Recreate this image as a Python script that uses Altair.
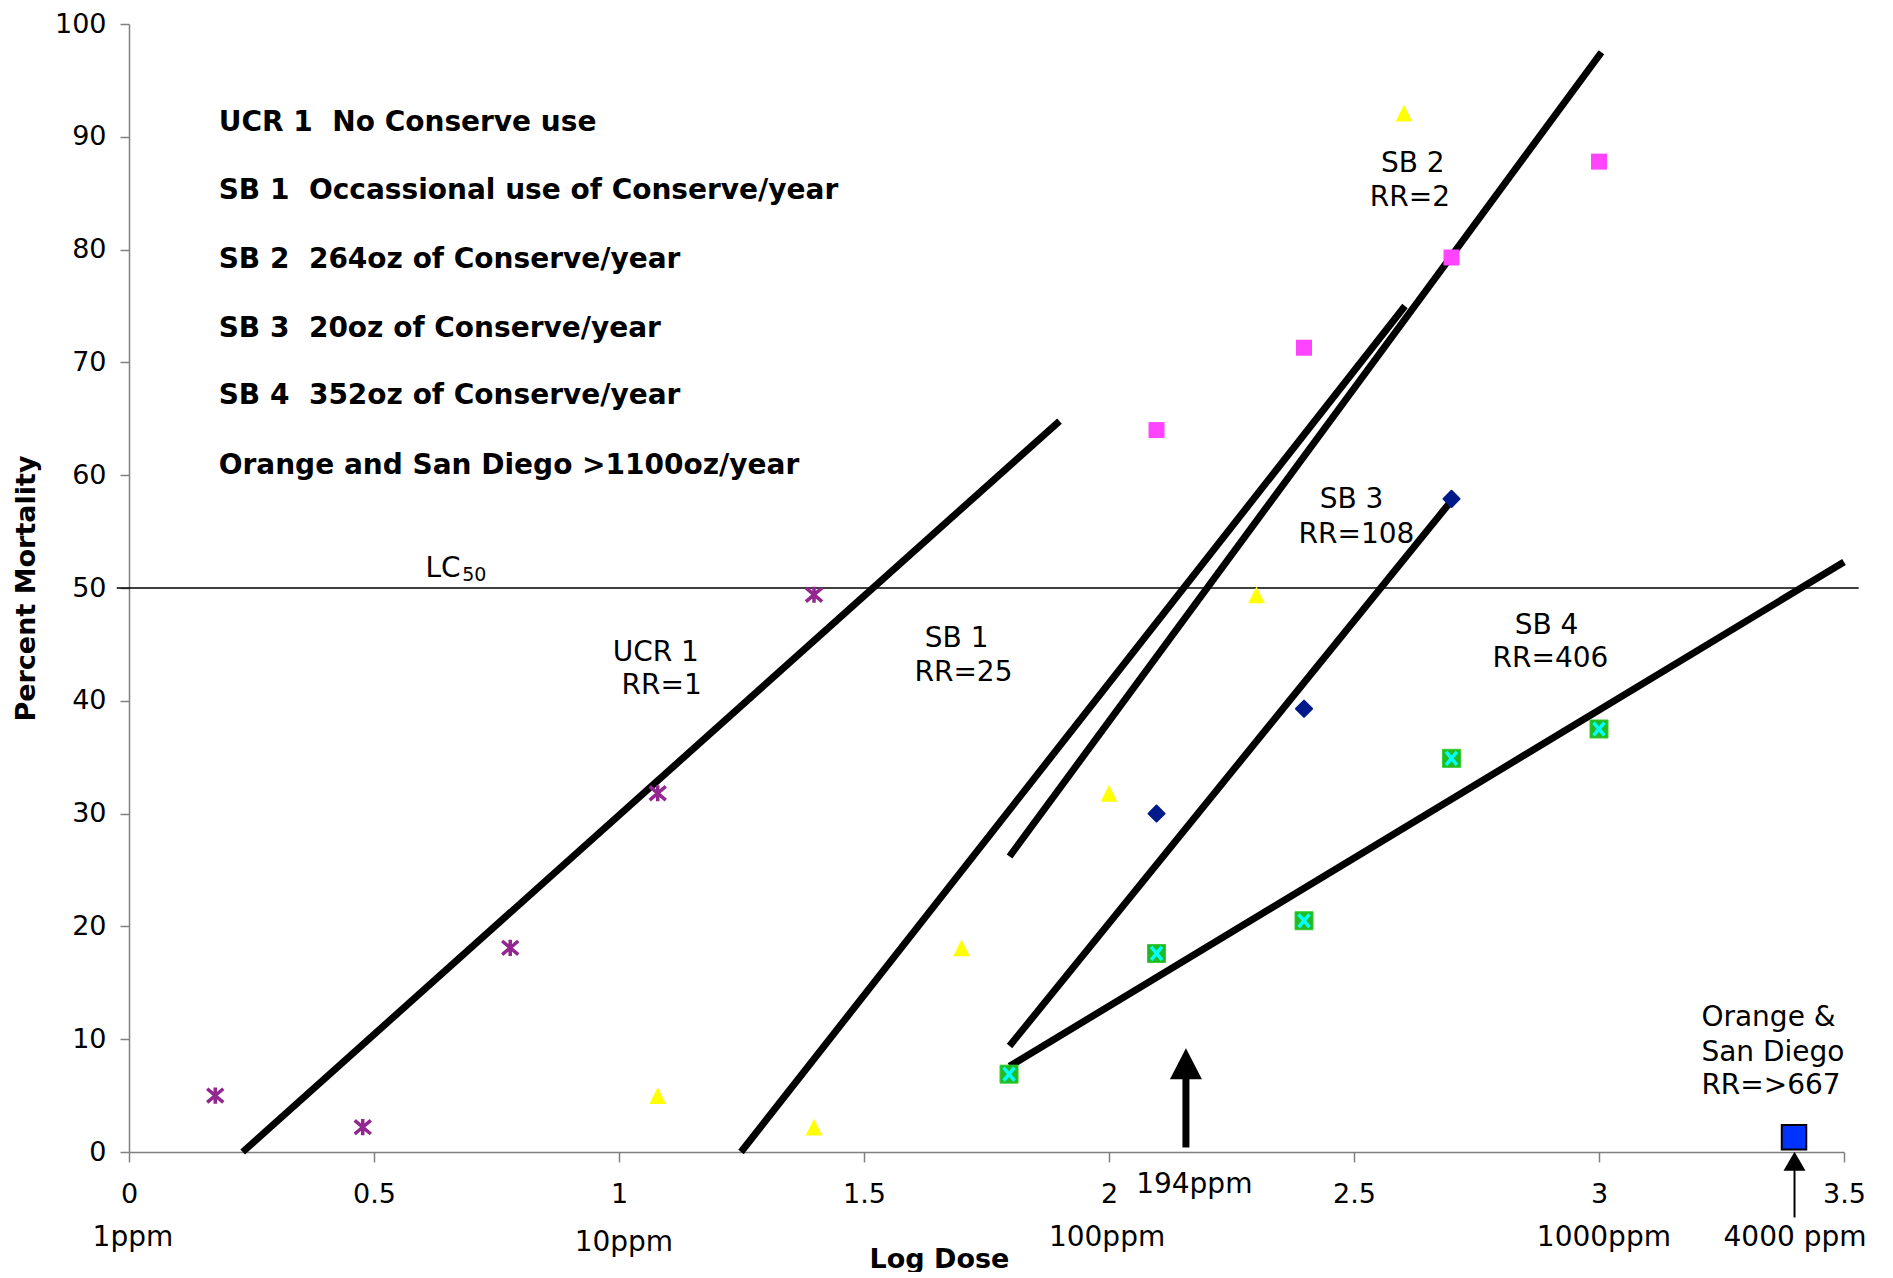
import altair as alt
import pandas as pd

FONT = "DejaVu Sans"
NB = "\u00a0"

# ---- data ----
ucr1_x = [0.176, 0.477, 0.778, 1.079, 1.398]
ucr1_y = [5.0, 2.2, 18.1, 31.8, 49.4]
sb1_x = [1.079, 1.398, 1.699, 2.0, 2.301, 2.602]
sb1_y = [5.0, 2.2, 18.1, 31.8, 49.4, 92.1]
sb2_x = [2.097, 2.398, 2.699, 3.0]
sb2_y = [64.0, 71.3, 79.3, 87.8]
sb3_x = [2.097, 2.398, 2.699]
sb3_y = [30.0, 39.3, 57.9]
sb4_x = [1.796, 2.097, 2.398, 2.699, 3.0]
sb4_y = [6.9, 17.6, 20.5, 34.9, 37.5]
osd_x = [3.398]
osd_y = [1.3]

# fitted regression lines (start and end)
fit_names = ["UCR 1", "SB 1", "SB 2", "SB 3", "SB 4"]
fit_x1 = [0.232, 1.249, 1.797, 1.797, 1.797]
fit_y1 = [0.0, 0.0, 26.2, 9.4, 7.6]
fit_x2 = [1.899, 2.604, 3.005, 2.700, 3.500]
fit_y2 = [64.8, 75.0, 97.5, 57.8, 52.3]

# LC50 reference line
lc50_value = 50
lc50_span = [-0.025, 3.53]

# x tick values and ppm labels
x_ticks = [0, 0.5, 1, 1.5, 2, 2.5, 3, 3.5]
ppm_labels = ["1ppm", "10ppm", "100ppm", "1000ppm", "4000 ppm"]
ppm_x = [0.008, 1.01, 1.996, 3.01, 3.40]
ppm_y = [-7.6, -8.1, -7.6, -7.6, -7.6]

# legend block text
legend_lines = [
    "UCR 1" + NB + NB + "No Conserve use",
    "SB 1" + NB + NB + "Occassional use of Conserve/year",
    "SB 2" + NB + NB + "264oz of Conserve/year",
    "SB 3" + NB + NB + "20oz of Conserve/year",
    "SB 4" + NB + NB + "352oz of Conserve/year",
    "Orange and San Diego >1100oz/year",
]
legend_x = [0.183] * 6
legend_y = [91.2, 85.2, 79.1, 73.0, 67.0, 60.8]

# series annotations (centered)
ann_text = ["UCR 1", "RR=1", "SB 1", "RR=25", "SB 2", "RR=2", "SB 3", "RR=108", "SB 4", "RR=406"]
ann_x = [1.075, 1.087, 1.689, 1.703, 2.620, 2.614, 2.495, 2.505, 2.893, 2.901]
ann_y = [44.2, 41.3, 45.5, 42.5, 87.6, 84.6, 57.8, 54.7, 46.6, 43.7]

# Orange & San Diego annotation (left aligned)
osd_text = ["Orange &", "San Diego", "RR=>667"]
osd_tx = [3.209, 3.209, 3.209]
osd_ty = [11.85, 8.75, 5.82]

# arrows
arrow194_x = [2.157]
arrow194_shaft = [0.4, 6.6]
arrow194_head_y = [7.83]
arrow4000_x = [3.399]
arrow4000_shaft = [-5.8, -1.5]
arrow4000_head_y = [-0.83]

# ---- encodings ----
x_axis = alt.Axis(
    values=x_ticks, format="~g", title="Log Dose", grid=False,
    labelFont=FONT, labelFontSize=27, labelColor="black", labelPadding=19,
    labelFlush=False, labelOverlap=False,
    tickSize=10, tickColor="#808080", tickWidth=1.5,
    domainColor="#808080", domainWidth=1.5,
    titleFont=FONT, titleFontSize=27, titleFontWeight="bold", titleColor="black",
    titleX=810, titleY=107, titleBaseline="middle", titleAlign="center",
)
y_axis = alt.Axis(
    values=list(range(0, 101, 10)), title="Percent Mortality", grid=False,
    labelFont=FONT, labelFontSize=27, labelColor="black", labelPadding=14,
    labelFlush=False, labelOverlap=False,
    tickSize=9, tickColor="#808080", tickWidth=1.5,
    domainColor="#808080", domainWidth=1.5,
    titleFont=FONT, titleFontSize=27, titleFontWeight="bold", titleColor="black",
    titleX=-103, titleY=564, titleAngle=270, titleBaseline="middle", titleAlign="center",
)
xs = alt.Scale(domain=[0, 3.5], nice=False, zero=False)
ys = alt.Scale(domain=[0, 100], nice=False, zero=False)
X = alt.X("x:Q", scale=xs, axis=x_axis)
Y = alt.Y("y:Q", scale=ys, axis=y_axis)


def df(xv, yv, **extra):
    d = {"x": xv, "y": yv}
    d.update(extra)
    return pd.DataFrame(d)


# LC50 line
lc50 = alt.Chart(df([lc50_span[0]], [lc50_value], x2=[lc50_span[1]])).mark_rule(
    color="black", strokeWidth=1.5
).encode(x=X, x2="x2:Q", y=Y)

# fitted lines
fits = alt.Chart(df(fit_x1, fit_y1, x2=fit_x2, y2=fit_y2, name=fit_names)).mark_rule(
    color="black", strokeWidth=7
).encode(x=X, y=Y, x2="x2:Q", y2="y2:Q")

ASTER = "M-1,-0.85L1,0.85M-1,0.85L1,-0.85M0,-1L0,1"
TRI = "M0,-1L1,1L-1,1Z"
XCROSS = "M-0.6,-0.72L0.6,0.72M-0.6,0.72L0.6,-0.72"

ucr1 = alt.Chart(df(ucr1_x, ucr1_y)).mark_point(
    shape=ASTER, filled=False, stroke="#92278F", strokeWidth=3.5, size=260, opacity=1
).encode(x=X, y=Y)
sb1 = alt.Chart(df(sb1_x, sb1_y)).mark_point(
    shape=TRI, filled=True, fill="#FFFF00", size=280, opacity=1
).encode(x=X, y=Y)
sb2 = alt.Chart(df(sb2_x, sb2_y)).mark_point(
    shape="square", filled=True, fill="#FF44FF", size=256, opacity=1
).encode(x=X, y=Y)
sb3 = alt.Chart(df(sb3_x, sb3_y)).mark_point(
    shape="diamond", filled=True, fill="#001A8A", stroke="#001A8A", strokeWidth=2,
    strokeJoin="round", size=260, opacity=1
).encode(x=X, y=Y)
sb4_box = alt.Chart(df(sb4_x, sb4_y)).mark_point(
    shape="square", filled=True, fill="#22BB22", stroke="#33CC33", strokeWidth=1,
    size=324, opacity=1
).encode(x=X, y=Y)
sb4_x_mark = alt.Chart(df(sb4_x, sb4_y)).mark_point(
    shape=XCROSS, filled=False, stroke="#00FFFF", strokeWidth=3.5, size=324, opacity=1
).encode(x=X, y=Y)
osd = alt.Chart(df(osd_x, osd_y)).mark_point(
    shape="square", filled=True, fill="#0033FF", stroke="black", strokeWidth=2,
    size=600, opacity=1
).encode(x=X, y=Y)

# arrows
arr194_shaft = alt.Chart(df(arrow194_x, [arrow194_shaft[0]], y2=[arrow194_shaft[1]])).mark_rule(
    color="black", strokeWidth=7
).encode(x=X, y=Y, y2="y2:Q")
arr194_head = alt.Chart(df(arrow194_x, arrow194_head_y)).mark_point(
    shape="M0,-0.97L1,0.97L-1,0.97Z", filled=True, fill="black", size=1024, opacity=1
).encode(x=X, y=Y)
arr4000_shaft = alt.Chart(df(arrow4000_x, [arrow4000_shaft[0]], y2=[arrow4000_shaft[1]])).mark_rule(
    color="black", strokeWidth=2
).encode(x=X, y=Y, y2="y2:Q")
arr4000_head = alt.Chart(df(arrow4000_x, arrow4000_head_y)).mark_point(
    shape="M0,-0.864L1,0.864L-1,0.864Z", filled=True, fill="black", size=484, opacity=1
).encode(x=X, y=Y)

# texts
legend = alt.Chart(df(legend_x, legend_y, t=legend_lines)).mark_text(
    align="left", baseline="middle", font=FONT, fontSize=28, fontWeight="bold", color="black"
).encode(x=X, y=Y, text="t:N")

ann = alt.Chart(df(ann_x, ann_y, t=ann_text)).mark_text(
    align="center", baseline="middle", font=FONT, fontSize=28, color="black"
).encode(x=X, y=Y, text="t:N")

osd_lbl = alt.Chart(df(osd_tx, osd_ty, t=osd_text)).mark_text(
    align="left", baseline="middle", font=FONT, fontSize=28, color="black"
).encode(x=X, y=Y, text="t:N")

lc_main = alt.Chart(df([0.605], [50.97], t=["LC"])).mark_text(
    align="left", baseline="alphabetic", font=FONT, fontSize=28, color="black"
).encode(x=X, y=Y, text="t:N")
lc_sub = alt.Chart(df([0.68], [50.62], t=["50"])).mark_text(
    align="left", baseline="alphabetic", font=FONT, fontSize=19, color="black"
).encode(x=X, y=Y, text="t:N")

ppm = alt.Chart(df(ppm_x, ppm_y, t=ppm_labels)).mark_text(
    align="center", baseline="middle", font=FONT, fontSize=28, color="black"
).encode(x=X, y=Y, text="t:N")
ppm194 = alt.Chart(df([2.174], [-2.95], t=["194ppm"])).mark_text(
    align="center", baseline="middle", font=FONT, fontSize=28, color="black"
).encode(x=X, y=Y, text="t:N")

chart = alt.layer(
    lc50, fits, ucr1, sb1, sb2, sb3, sb4_box, sb4_x_mark, osd,
    arr194_shaft, arr194_head, arr4000_shaft, arr4000_head,
    legend, ann, osd_lbl, lc_main, lc_sub, ppm, ppm194,
).properties(
    width=1715, height=1128,
    autosize=alt.AutoSizeParams(type="none"),
    padding={"left": 121, "top": 16, "right": 40, "bottom": 120},
    background="white",
).configure_view(stroke=None)

chart.save("out.html", embed_options={"renderer": "svg", "actions": False})
